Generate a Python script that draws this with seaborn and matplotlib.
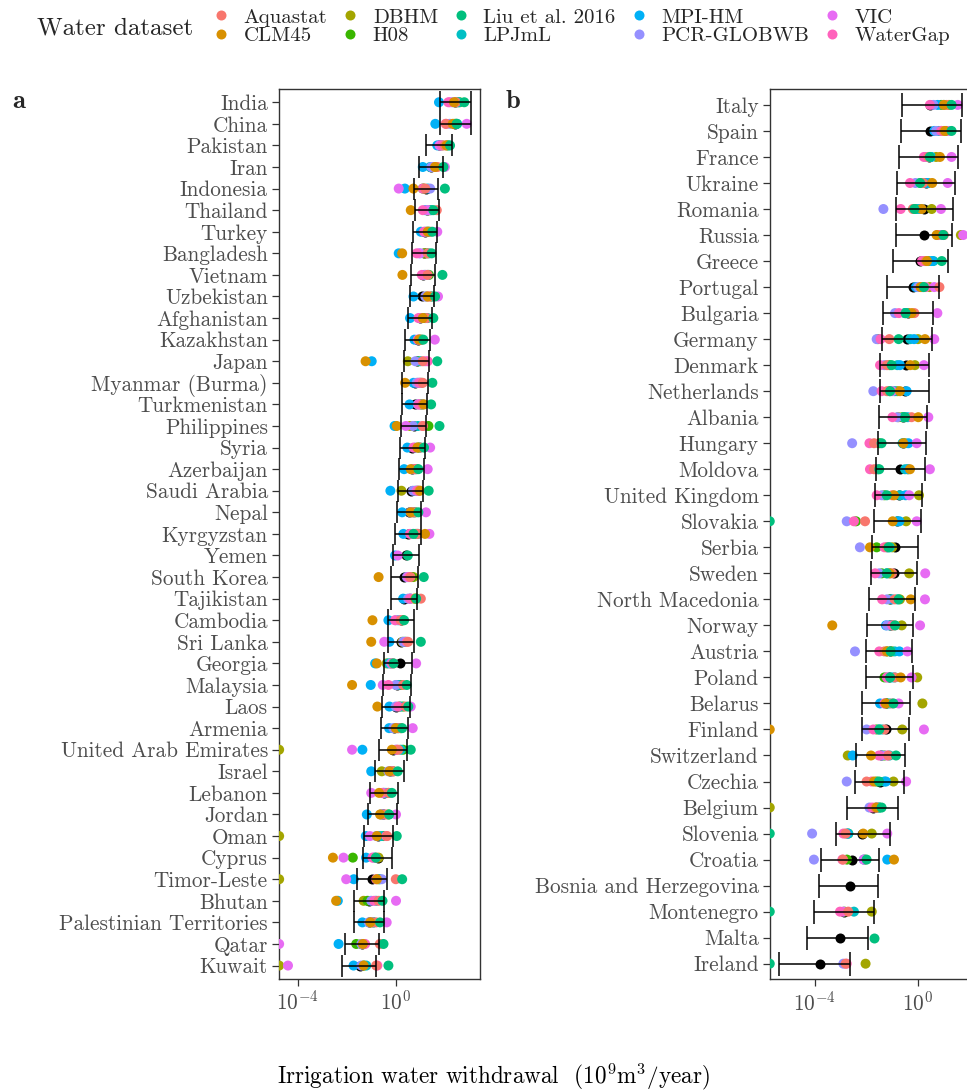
import numpy as np
import pandas as pd
import matplotlib
matplotlib.use("Agg")
import matplotlib.pyplot as plt
from matplotlib.lines import Line2D
from matplotlib.ticker import NullLocator
import seaborn as sns

nan = np.nan

# ---------------- datasets / colours ----------------
datasets = ["Aquastat", "CLM45", "DBHM", "H08", "Liu et al. 2016", "LPJmL",
            "MPI-HM", "PCR-GLOBWB", "VIC", "WaterGap"]
palette = ["#F8766D", "#D89000", "#A3A500", "#39B600", "#00BF7D", "#00BFC4",
           "#00B0F6", "#9590FF", "#E76BF3", "#FF62BC"]
draw_order = ["DBHM", "H08", "LPJmL", "MPI-HM", "PCR-GLOBWB", "VIC", "WaterGap",
              "Aquastat", "CLM45", "Liu et al. 2016"]

# ---------------- panel a (values are log10 of 10^9 m3/year) ----------------
countries_a = ["India", "China", "Pakistan", "Iran", "Indonesia", "Thailand", "Turkey",
               "Bangladesh", "Vietnam", "Uzbekistan", "Afghanistan", "Kazakhstan", "Japan",
               "Myanmar (Burma)", "Turkmenistan", "Philippines", "Syria", "Azerbaijan",
               "Saudi Arabia", "Nepal", "Kyrgyzstan", "Yemen", "South Korea", "Tajikistan",
               "Cambodia", "Sri Lanka", "Georgia", "Malaysia", "Laos", "Armenia",
               "United Arab Emirates", "Israel", "Lebanon", "Jordan", "Oman", "Cyprus",
               "Timor-Leste", "Bhutan", "Palestinian Territories", "Qatar", "Kuwait"]
Ea = -4.75  # value at the lower bound of the axis
aq_a = [2.45, 2.05, 2.0, 1.7, 1.2, 1.67, 1.4, 1.3, 1.3, 1.4, 1.26, 1.0, 1.1, 1.1, 1.1, 1.1, 1.0, 0.8, 0.95, 0.75,
        0.9, nan, 0.6, 1.02, 0.2, 0.5, -0.1, 0.3, 0.4, 0.2, 0.1, -0.1, -0.3, -0.4, -0.35, -0.8, 0.0, -0.7, -0.8, -0.65, -0.8]
clm_a = [2.37, 2.32, 2.07, 1.6, 0.72, 0.61, 1.3, 0.26, 0.27, 1.3, 1.1, 0.95, -1.23, 0.38, 1.15, 0.04, 0.88, 0.61, 0.99, 0.61,
         1.19, nan, -0.70, 0.8, -0.95, -1.0, -0.77, -1.78, -0.75, 0.0, -0.16, -0.26, -0.68, -0.64, -0.77, -2.56, -0.77, -2.43, -1.04, -1.34, -1.31]
dbhm_a = [2.5, 2.4, 1.9, 1.5, 1.15, 1.35, 1.25, 1.15, 1.2, 1.25, 1.05, 0.95, 0.49, 0.99, 1.0, 0.58, 0.9, 0.7, 0.23, 0.7,
          0.8, nan, 0.72, 0.75, 0.25, 0.27, -0.37, 0.04, 0.15, 0.1, Ea, -0.57, -0.5, -0.6, Ea, -0.70, Ea, -1.31, -1.0, -1.4, Ea]
h08_a = [2.6, 2.45, 2.1, 1.55, 1.1, 1.4, 1.35, 1.25, 1.35, 1.45, 1.2, 1.05, 0.9, 1.05, 1.05, 1.33, 0.95, 0.85, 0.9, 0.8,
         0.85, nan, 0.65, 0.85, 0.3, 0.4, -0.2, 0.2, 0.3, 0.2, 0.3, -0.1, -0.3, -0.3, -0.5, -1.75, -0.7, -1.15, -0.9, -1.61, -1.3]
liu_a = [2.79, 2.48, 2.21, 1.94, 2.0, 1.53, 1.49, 1.46, 1.90, 1.60, 1.53, 1.12, 1.69, 1.49, 1.44, 1.78, 1.15, 0.92, 1.34, 0.92,
         0.72, 0.49, 1.14, 0.83, 0.34, 1.02, -0.09, 0.45, 0.51, 0.26, 0.61, 0.08, -0.16, -0.27, 0.04, -0.81, 0.26, -0.54, -0.64, -0.50, -0.30]
lpj_a = [2.55, 2.5, 2.15, 1.4, 1.3, 1.45, 1.3, 1.35, 1.3, 1.5, 1.3, 1.0, 1.0, 0.9, 1.1, 0.9, 1.0, 0.8, 0.8, 0.75,
         0.9, nan, 0.55, 0.6, 0.1, 0.35, -0.3, 0.1, 0.2, 0.1, 0.2, -0.2, -0.4, -0.5, -0.6, -0.85, -0.65, -0.8, -0.9, -1.3, -1.2]
mpi_a = [1.76, 1.61, 1.69, 1.10, 0.37, 1.2, 1.02, 0.12, 1.15, 0.72, 0.58, 0.76, -0.98, 0.72, 0.56, -0.05, 0.47, 0.34, -0.22, 0.26,
         0.31, -0.03, 0.5, 0.30, -0.30, -0.26, -0.84, -1.02, -0.26, -0.27, -1.36, -1.0, -0.47, -1.18, -1.22, -1.21, -1.71, -2.36, -1.36, -2.33, -1.72]
pcr_a = [2.3, 2.2, 1.85, 1.45, 1.40, 1.3, 1.2, 1.0, 1.2, 1.2, 1.0, 0.9, 0.8, 0.85, 0.9, 0.7, 0.8, 0.7, 0.7, 0.6,
         0.7, nan, 0.45, 0.5, 0.0, 0.3, -0.2, 0.0, 0.0, -0.1, 0.0, -0.3, -0.5, -0.6, -0.8, -0.9, -0.57, -1.0, -1.1, -1.4, -1.4]
vic_a = [2.2, 2.89, 1.78, 2.0, 0.12, 1.3, 1.69, 0.95, 1.26, 1.72, 1.0, 1.59, 1.2, 1.0, 0.92, 0.41, 1.40, 1.30, 0.85, 1.23,
         1.37, 0.08, 0.49, 0.6, 0.18, -0.47, 0.83, -0.53, 0.61, 0.69, -1.78, -0.2, -1.0, 0.01, -1.05, -2.13, -2.02, 0.01, -0.37, Ea, -4.39]
wg_a = [2.14, 2.03, 1.88, 1.6, 1.1, 1.10, 1.15, 0.85, 1.06, 1.33, 0.92, 0.9, 1.30, 0.95, 0.95, 1.10, 0.72, 0.75, 0.88, 0.65,
        0.58, nan, 0.55, 0.58, -0.03, 0.45, -0.15, -0.30, 0.1, 0.05, 0.04, -0.15, -0.55, -0.5, -0.39, -0.95, -0.8, -0.88, -0.95, -1.25, -0.75]
mean_a = [2.43, 2.43, 1.75, 1.45, 1.25, 1.26, 1.2, 1.15, 1.1, 1.07, 1.0, 0.9, 0.87, 0.79, 0.78, 0.76, 0.68, 0.65, 0.61, 0.54,
          0.5, 0.4, 0.34, 0.34, 0.22, 0.2, 0.18, 0.04, 0.0, -0.06, -0.12, -0.25, -0.48, -0.54, -0.72, -0.74, -0.98, -1.08, -1.08, -1.37, -1.45]
lo_a = [1.80, 1.80, 1.23, 0.96, 0.76, 0.77, 0.72, 0.66, 0.61, 0.57, 0.50, 0.39, 0.34, 0.27, 0.27, 0.20, 0.18, 0.15, 0.09, 0.03,
        -0.03, -0.12, -0.18, -0.20, -0.31, -0.33, -0.46, -0.53, -0.57, -0.61, -0.68, -0.83, -1.07, -1.14, -1.31, -1.34, -1.56, -1.69, -1.69, -2.06, -2.21]
hi_a = [3.06, 3.06, 2.28, 1.94, 1.73, 1.75, 1.68, 1.64, 1.60, 1.56, 1.49, 1.40, 1.37, 1.31, 1.29, 1.25, 1.18, 1.15, 1.12, 1.04,
        1.02, 0.93, 0.91, 0.88, 0.75, 0.73, 0.65, 0.61, 0.56, 0.49, 0.45, 0.33, 0.11, 0.05, -0.12, -0.14, -0.34, -0.46, -0.47, -0.69, -0.80]

# ---------------- panel b ----------------
countries_b = ["Italy", "Spain", "France", "Ukraine", "Romania", "Russia", "Greece", "Portugal",
               "Bulgaria", "Germany", "Denmark", "Netherlands", "Albania", "Hungary", "Moldova",
               "United Kingdom", "Slovakia", "Serbia", "Sweden", "North Macedonia", "Norway",
               "Austria", "Poland", "Belarus", "Finland", "Switzerland", "Czechia", "Belgium",
               "Slovenia", "Croatia", "Bosnia and Herzegovina", "Montenegro", "Malta", "Ireland"]
Eb = -5.74
aq_b = [1.11, 1.0, 0.4, 0.2, -0.2, 1.0, 0.3, 0.83, -0.14, -1.11, -1.2, -1.2, -0.25, -1.7, -1.7, -1.0, -2.05,
        -1.2, -1.0, -0.9, -0.9, -1.3, -0.9, -1.0, -1.3, -1.15, -1.99, -1.65, -2.8, -2.9, nan, -2.70, nan, -2.8]
clm_b = [1.0, 1.05, 0.85, 0.55, 0.14, 0.72, 0.35, 0.10, -0.25, 0.27, -0.3, -0.70, 0.01, -0.57, -0.31, -0.93, -0.98,
         -1.86, -1.1, -0.28, -3.32, -1.2, -0.67, -1.25, Eb, -1.82, -1.7, -1.6, -2.12, -0.93, nan, nan, nan, nan]
dbhm_b = [1.2, 1.11, 0.7, 0.4, 0.53, 1.66, 0.25, 0.45, -0.4, 0.0, -0.12, -0.8, -0.76, -0.5, -0.4, 0.04, -0.46,
          -1.0, -0.34, -0.7, -0.63, -1.0, -0.03, 0.17, -0.61, -2.72, -0.95, Eb, -1.79, -2.05, nan, -1.79, nan, -2.03]
h08_b = [0.9, 0.9, 0.45, 0.1, -0.1, 0.85, 0.4, 0.2, -0.5, -1.55, -1.1, -1.1, -0.6, -1.5, -1.55, -1.3, -2.4,
         -1.6, -1.4, -1.1, -1.0, -1.2, -1.3, -1.2, -1.6, -1.3, -1.6, -1.5, -2.7, -2.75, nan, -2.85, nan, nan]
liu_b = [1.30, 1.30, 0.46, 0.08, -0.14, 0.98, 0.92, 0.23, -0.48, -0.75, -1.02, -1.08, -0.50, -1.41, -1.50, -1.21, Eb,
         -1.14, -1.21, -0.75, -0.89, -1.06, -1.08, -0.95, -1.50, -0.85, -1.51, -1.41, Eb, -1.99, nan, Eb, -1.70, Eb]
lpj_b = [1.0, 0.8, 0.5, 0.3, 0.0, 0.9, 0.6, 0.15, -0.45, -0.3, -0.8, -0.9, -0.55, -0.6, -0.5, -0.7, -0.8,
         -1.1, -1.1, -0.8, -1.1, -0.9, -0.9, -1.1, -1.4, -1.1, -1.3, -1.5, -2.7, -2.1, nan, -2.48, nan, nan]
mpi_b = [0.76, 0.63, 0.5, 0.37, 0.1, 0.8, 0.53, -0.08, -0.5, -0.15, -0.70, -0.44, -0.4, -0.37, -0.38, -0.48, -0.72,
         -1.2, -1.2, -1.0, -1.24, -0.72, -1.0, -1.47, -1.5, -2.53, -1.24, -1.60, -2.75, -1.19, nan, nan, nan, nan]
pcr_b = [0.6, 0.7, 0.3, -0.1, -1.34, 0.75, 0.2, 0.0, -0.89, -1.6, -1.3, -1.73, -0.8, -2.55, -1.6, -1.4, -2.76,
         -2.25, -1.5, -1.2, -1.2, -2.44, -1.2, -1.3, -1.99, -1.4, -2.76, -1.88, -4.10, -4.03, nan, nan, nan, -2.89]
vic_b = [1.54, 1.2, 1.30, 1.15, 0.89, 1.75, 0.3, 0.63, 0.75, 0.63, 0.23, -1.0, 0.40, -0.05, 0.46, -0.34, -0.05,
         nan, 0.28, 0.27, 0.08, -0.41, -0.25, -0.75, 0.23, -1.2, -0.46, -1.6, -1.19, -2.1, nan, -2.9, nan, nan]
wg_b = [0.46, 0.9, 0.23, -0.31, -0.67, 0.8, 0.15, 0.3, -0.74, -1.45, -1.47, -1.41, -0.99, -1.88, -1.86, -1.6, -2.48,
        -1.3, -1.66, -1.39, -1.0, -1.50, -1.2, -1.3, -1.73, -1.51, -1.8, -1.77, -2.89, -2.93, nan, -3.02, nan, -2.76]
mean_b = [0.46, 0.46, 0.41, 0.32, 0.23, 0.23, 0.08, -0.18, -0.37, -0.41, -0.48, -0.5, -0.58, -0.57, -0.68, -0.74, -0.8,
          -0.89, -0.92, -1.08, -1.07, -1.08, -1.11, -1.23, -1.24, -1.45, -1.48, -1.76, -2.15, -2.57, -2.63, -2.86, -3.02, -3.79]
lo_b = [-0.62, -0.65, -0.72, -0.80, -0.85, -0.86, -0.95, -1.20, -1.34, -1.41, -1.46, -1.46, -1.51, -1.56, -1.61, -1.68, -1.72,
        -1.78, -1.82, -1.91, -1.96, -2.00, -2.01, -2.15, -2.15, -2.40, -2.43, -2.76, -3.17, -3.77, -3.82, -4.03, -4.31, -5.39]
hi_b = [1.72, 1.66, 1.55, 1.43, 1.34, 1.30, 1.16, 0.83, 0.59, 0.53, 0.44, 0.44, 0.35, 0.30, 0.27, 0.14, 0.12,
        -0.01, -0.03, -0.12, -0.18, -0.22, -0.21, -0.31, -0.34, -0.50, -0.53, -0.76, -1.07, -1.50, -1.54, -1.70, -1.92, -2.63]

series_a = dict(zip(datasets, [aq_a, clm_a, dbhm_a, h08_a, liu_a, lpj_a, mpi_a, pcr_a, vic_a, wg_a]))
series_b = dict(zip(datasets, [aq_b, clm_b, dbhm_b, h08_b, liu_b, lpj_b, mpi_b, pcr_b, vic_b, wg_b]))


def long_frame(countries, series):
    rows = []
    for ds in draw_order:
        for c, v in zip(countries, series[ds]):
            if not np.isnan(v):
                rows.append((c, ds, 10.0 ** v))
    return pd.DataFrame(rows, columns=["country", "dataset", "value"])


# ---------------- style ----------------
sns.set_style("white")
plt.rcParams["font.family"] = ["cmr10", "DejaVu Serif"]
plt.rcParams["mathtext.fontset"] = "cm"
plt.rcParams["axes.unicode_minus"] = False
plt.rcParams["axes.formatter.use_mathtext"] = True

W, H = 967, 1092
fig = plt.figure(figsize=(W / 100, H / 100), dpi=100)

grey_txt = "#4D4D4D"
dark = "#333333"
TICK_FS = 15.3


def panel(rect, countries, series, mean, lo, hi, xlim, capsize):
    ax = fig.add_axes(rect)
    df = long_frame(countries, series)
    sns.stripplot(data=df, x="value", y="country", hue="dataset", order=countries,
                  hue_order=datasets, palette=palette, jitter=False, dodge=False,
                  size=7.2, linewidth=0, log_scale=True, legend=False, ax=ax, zorder=3)
    pos = np.arange(len(countries))
    m = 10.0 ** np.array(mean)
    l = 10.0 ** np.array(lo)
    h = 10.0 ** np.array(hi)
    ax.scatter(m, pos, s=52, color="black", linewidths=0, zorder=2)
    ax.errorbar(m, pos, xerr=[m - l, h - m], fmt="none", ecolor="black",
                elinewidth=1.1, capsize=capsize, capthick=1.1, zorder=4)
    ax.set_xscale("log")
    ax.set_xlim(10.0 ** xlim[0], 10.0 ** xlim[1])
    ax.set_ylim(len(countries) - 1 + 0.6, -0.6)
    ax.set_xticks([1e-4, 1e0])
    ax.set_xticklabels([r"$10^{-4}$", r"$10^{0}$"])
    ax.xaxis.set_minor_locator(NullLocator())
    ax.set_yticks(pos)
    ax.set_yticklabels(countries)
    ax.set_xlabel("")
    ax.set_ylabel("")
    ax.tick_params(axis="both", which="major", length=4.8, width=0.9, color=dark,
                   labelcolor=grey_txt, labelsize=TICK_FS, pad=3.2,
                   bottom=True, left=True)
    for s in ax.spines.values():
        s.set_color(dark)
        s.set_linewidth(1.0)
        s.set_visible(True)
    return ax


ax_a = panel([279 / W, 1 - 978.5 / H, 201 / W, 889.2 / H], countries_a, series_a,
             mean_a, lo_a, hi_a, (-4.756, 3.43), 7.6)
ax_b = panel([769.7 / W, 1 - 979.3 / H, 205.3 / W, 890.0 / H], countries_b, series_b,
             mean_b, lo_b, hi_b, (-5.742, 2.207), 8.4)

# panel letters
fig.text(12 / W, 1 - 101 / H, "a", family="cmb10", fontsize=19, va="center", ha="left")
fig.text(506 / W, 1 - 101 / H, "b", family="cmb10", fontsize=19, va="center", ha="left")

# x label
fig.text(493 / W, 1 - 1077 / H,
         r"Irrigation water withdrawal  $(10^9\mathrm{m}^3/\mathrm{year})$",
         fontsize=16.7, ha="center", va="center", color="black")

# legend
fig.text(37 / W, 1 - 28 / H, "Water dataset", fontsize=18, ha="left", va="center")
handles = [Line2D([0], [0], marker="o", linestyle="none", markersize=7.2,
                  markerfacecolor=c, markeredgewidth=0) for c in palette]
fig.legend(handles, datasets, ncol=5, loc="upper left",
           bbox_to_anchor=(215 / W, 1 - 8 / H), frameon=False, fontsize=15,
           handlelength=0.6, handletextpad=0.78, columnspacing=0.8,
           labelspacing=0.0, borderpad=0, borderaxespad=0)

fig.savefig("out.png", dpi=100)
